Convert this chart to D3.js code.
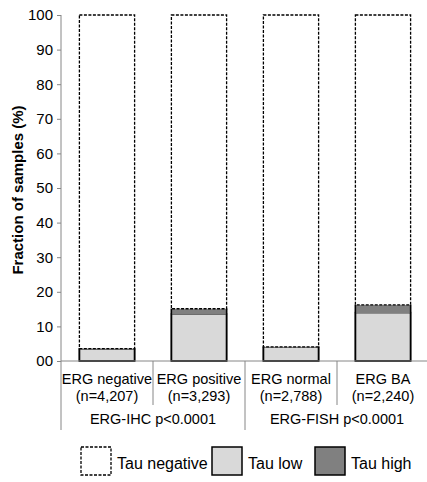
<!DOCTYPE html>
<html>
<head>
<meta charset="utf-8">
<script src="https://cdn.jsdelivr.net/npm/d3@7/dist/d3.min.js"></script>
<style>
  body { margin: 0; background: #fff; }
  text { font-family: "Liberation Sans", Arial, sans-serif; fill: #000; }
</style>
</head>
<body>
<svg id="chart" width="427" height="482"></svg>
<script>
// data
var categories = ["ERG negative", "ERG positive", "ERG normal", "ERG BA"];
var counts = ["(n=4,207)", "(n=3,293)", "(n=2,788)", "(n=2,240)"];
var groups = ["ERG-IHC p<0.0001", "ERG-FISH p<0.0001"];
var tauLow = [3.5, 13.6, 4.0, 14.0];
var tauHigh = [0.1, 1.5, 0.1, 2.2];
var tauNegative = tauLow.map(function(v, i) { return 100 - v - tauHigh[i]; });
var yTicks = [0, 10, 20, 30, 40, 50, 60, 70, 80, 90, 100];
var seriesNames = ["Tau negative", "Tau low", "Tau high"];

var svg = d3.select("#chart");
var mLeft = 61, mRight = 429, mTop = 15, mBottom = 361;

var x = d3.scaleBand().domain(categories).range([mLeft, mRight]).paddingInner(0.4).paddingOuter(0.2);
var y = d3.scaleLinear().domain([0, 100]).range([mBottom, mTop]);

// y axis
var yAxis = d3.axisLeft(y).tickValues(yTicks).tickSize(4).tickPadding(4)
  .tickFormat(function(d) { return d === 0 ? "00" : d; });
var ga = svg.append("g").attr("transform", "translate(" + mLeft + ",0)").call(yAxis);
ga.select(".domain").remove();
ga.selectAll(".tick line").attr("stroke", "#868686");
ga.selectAll(".tick text").style("font-size", "15px").style("font-family", "Liberation Sans, Arial, sans-serif");
svg.append("line").attr("x1", mLeft).attr("x2", mLeft).attr("y1", mTop).attr("y2", 430)
  .attr("stroke", "#868686");

svg.append("text")
  .attr("transform", "translate(23,190) rotate(-90)")
  .attr("text-anchor", "middle")
  .style("font-size", "15px").style("font-weight", "bold")
  .text("Fraction of samples (%)");

// stacked bars
var rows = categories.map(function(c, i) {
  return { cat: c, neg: tauNegative[i], low: tauLow[i], high: tauHigh[i] };
});
var stack = d3.stack().keys(["low", "high", "neg"])(rows);
var fills = { low: "#d9d9d9", high: "#808080", neg: "#ffffff" };

stack.forEach(function(layer) {
  var key = layer.key;
  svg.append("g").selectAll("rect").data(layer).enter().append("rect")
    .attr("x", function(d) { return x(d.data.cat); })
    .attr("width", x.bandwidth())
    .attr("y", function(d) { return y(d[1]); })
    .attr("height", function(d) { return y(d[0]) - y(d[1]); })
    .attr("fill", fills[key])
    .attr("stroke", key === "high" ? "#808080" : "#000")
    .attr("stroke-width", key === "neg" ? 1.3 : 1.5)
    .attr("stroke-dasharray", key === "neg" ? "3,1.5" : null);
});
// solid sides of the coloured part
rows.forEach(function(r) {
  var x0 = x(r.cat), x1 = x0 + x.bandwidth();
  svg.append("path")
    .attr("d", "M" + x0 + "," + y(r.low + r.high) + "V" + y(0) + "H" + x1 + "V" + y(r.low + r.high))
    .attr("fill", "none").attr("stroke", "#000").attr("stroke-width", 1.5);
});

// baseline
svg.append("line").attr("x1", mLeft).attr("x2", 427).attr("y1", mBottom).attr("y2", mBottom)
  .attr("stroke", "#868686");

// category separators and labels
[1, 2, 3].forEach(function(k) {
  var sx = mLeft + k * (mRight - mLeft) / 4;
  svg.append("line").attr("x1", sx).attr("x2", sx).attr("y1", mBottom)
    .attr("y2", k === 2 ? 430 : 405).attr("stroke", "#868686");
});
categories.forEach(function(c, i) {
  var cx = mLeft + (i + 0.5) * (mRight - mLeft) / 4;
  svg.append("text").attr("x", cx).attr("y", 384).attr("text-anchor", "middle")
    .style("font-size", "14.5px").text(c);
  svg.append("text").attr("x", cx).attr("y", 401).attr("text-anchor", "middle")
    .style("font-size", "14.5px").text(counts[i]);
});
groups.forEach(function(g, i) {
  var cx = mLeft + (i + 0.5) * (mRight - mLeft) / 2;
  svg.append("text").attr("x", cx).attr("y", 424).attr("text-anchor", "middle")
    .style("font-size", "14.5px").text(g);
});

// legend
var legX = [81, 212, 315];
seriesNames.forEach(function(s, i) {
  var lg = svg.append("g").attr("transform", "translate(" + legX[i] + ",447)");
  lg.append("rect").attr("width", 30).attr("height", 28)
    .attr("fill", [fills.neg, fills.low, fills.high][i])
    .attr("stroke", "#000").attr("stroke-width", i === 0 ? 1.3 : 1.5)
    .attr("stroke-dasharray", i === 0 ? "3,1.5" : null);
  lg.append("text").attr("x", 36).attr("y", 22).style("font-size", "16px").text(s);
});
</script>
</body>
</html>
